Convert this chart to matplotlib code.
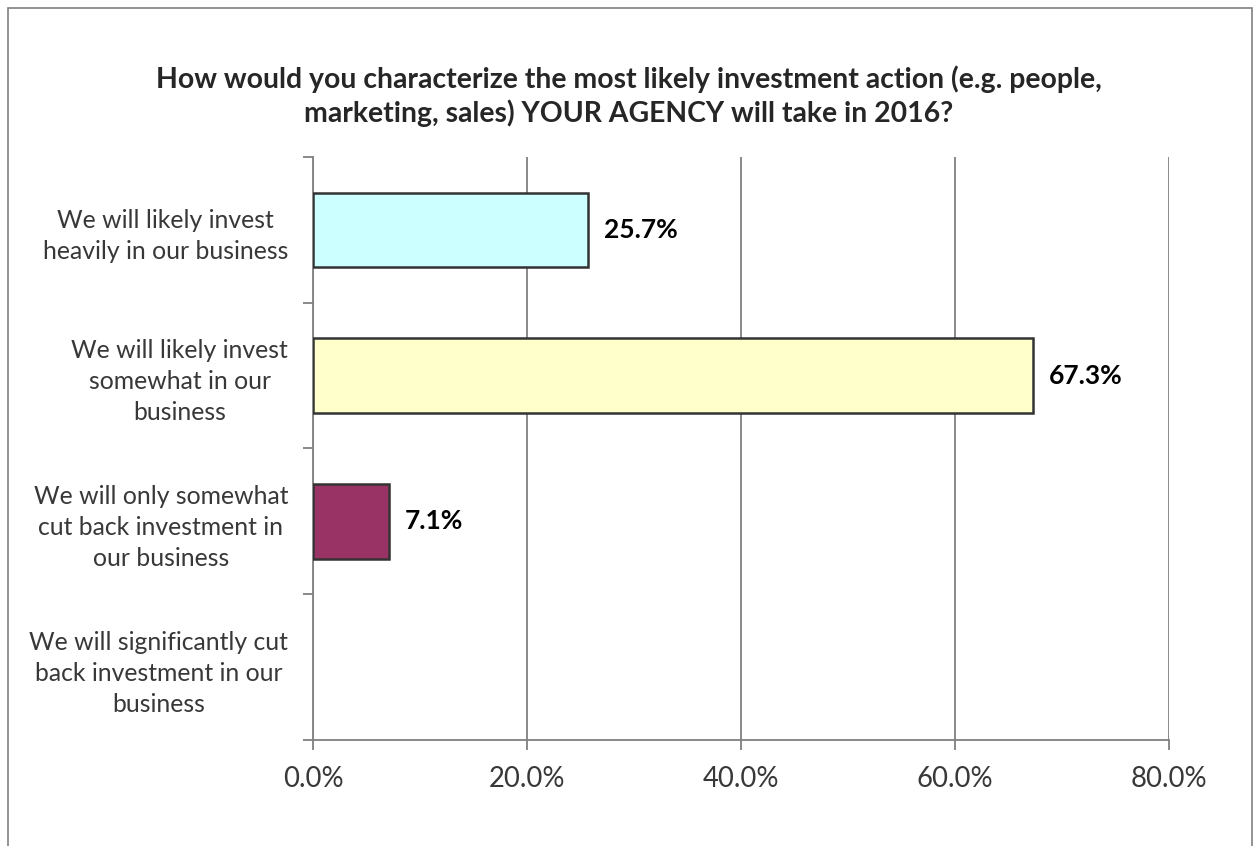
import matplotlib.pyplot as plt
from matplotlib.patches import Rectangle
from matplotlib.ticker import FixedLocator, PercentFormatter

categories = [
    "We will likely invest\nheavily in our business",
    "We will likely invest\nsomewhat in our\nbusiness",
    "We will only somewhat\ncut back investment in\nour business",
    "We will significantly cut\nback investment in our\nbusiness",
]
values = [25.7, 67.3, 7.1, 0.0]
bar_colors = ["#CCFFFF", "#FFFFCC", "#993366", "#993366"]
value_labels = ["25.7%", "67.3%", "7.1%", None]
title = ("How would you characterize the most likely investment action (e.g. people,\n"
         "marketing, sales) YOUR AGENCY will take in 2016?")

plt.rcParams['font.family'] = ['Lato', 'DejaVu Sans']

fig = plt.figure(figsize=(12.57, 8.46), dpi=100)
fig.patches.append(Rectangle((8 / 1257, -0.05), 1244 / 1257, 1.05 - 8 / 846,
                             transform=fig.transFigure, fill=False,
                             edgecolor="#808080", linewidth=1.2))

ax = fig.add_axes([313 / 1257, 1 - 740 / 846, 856 / 1257, 583 / 846])
pos = list(range(len(categories)))
for i, (v, c) in enumerate(zip(values, bar_colors)):
    if v > 0:
        ax.barh(i, v, height=0.51, color=c, edgecolor="#333333", linewidth=1.8, zorder=3)
    if value_labels[i]:
        ax.text(v + 1.5, i, value_labels[i], va="center", ha="left",
                fontsize=19, fontweight="bold", color="black")

ax.set_xlim(0, 80)
ax.set_ylim(3.5, -0.5)
ax.set_xticks([0, 20, 40, 60, 80])
ax.xaxis.set_major_formatter(PercentFormatter(decimals=1))
ax.grid(axis="x", color="#808080", linewidth=1.3, zorder=0)

# category names sit on minor ticks, the major ticks mark the band edges
ax.yaxis.set_major_locator(FixedLocator([-0.5, 0.5, 1.5, 2.5, 3.5]))
ax.yaxis.set_major_formatter(plt.NullFormatter())
ax.yaxis.set_minor_locator(FixedLocator(pos))
ax.set_yticklabels(categories, minor=True)
ax.tick_params(axis="y", which="minor", length=0, pad=18, labelsize=17.8, labelcolor="#383838")
ax.tick_params(axis="y", which="major", length=7, width=1.3, color="#808080")
ax.tick_params(axis="x", length=7, width=1.3, color="#808080", labelsize=19.8,
               labelcolor="#383838", pad=12)
for lbl in ax.get_yticklabels(minor=True):
    lbl.set_multialignment("center")
    lbl.set_linespacing(1.42)

for side in ["top", "right"]:
    ax.spines[side].set_visible(False)
for side in ["left", "bottom"]:
    ax.spines[side].set_color("#808080")
    ax.spines[side].set_linewidth(1.3)

fig.text(0.5, 1 - 96 / 846, title, ha="center", va="center", fontsize=20.4,
         fontweight="bold", color="#262626", linespacing=1.3)

fig.savefig("out.png", dpi=100)
